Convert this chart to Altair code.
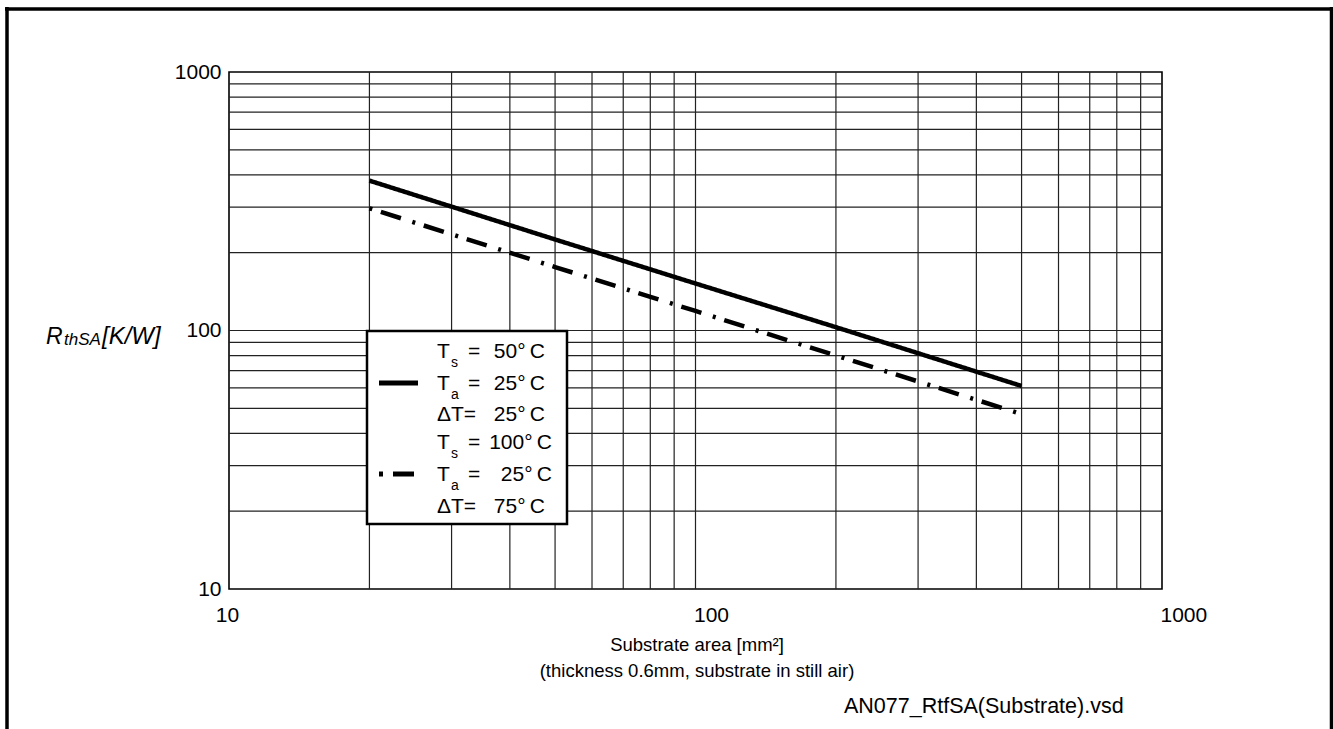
import altair as alt
import pandas as pd

# ---------------- data ----------------
area_mm2 = [20, 50, 100, 200, 500]
r_ts50 = [380, 225, 152, 103, 61]        # Ts = 50°C, Ta = 25°C, dT = 25°C
r_ts100 = [297, 176, 119, 80, 47.5]      # Ts = 100°C, Ta = 25°C, dT = 75°C
case_names = ["dT25", "dT75"]

x_ticks = [10, 100, 1000]
y_ticks = [10, 100, 1000]
x_grid = [20, 30, 40, 50, 60, 70, 80, 90, 100, 200, 300, 400, 500, 600, 700, 800, 900]
y_grid = [20, 30, 40, 50, 60, 70, 80, 90, 100, 200, 300, 400, 500, 600, 700, 800, 900]

legend_main = ["T", "T", "\u0394T=", "T", "T", "\u0394T="]
legend_sub = ["s", "a", "", "s", "a", ""]
legend_eq = ["=", "=", "", "=", "=", ""]
legend_val = ["50\u00b0\u2009C", "25\u00b0\u2009C", "25\u00b0\u2009C",
              "100\u00b0\u2009C", "25\u00b0\u2009C", "75\u00b0\u2009C"]

x_title = ["Substrate area [mm\u00b2]", "(thickness 0.6mm, substrate in still air)"]
file_note = "AN077_RtfSA(Substrate).vsd"

# ---------------- chart ----------------
FONT = "Liberation Sans"
W, H = 933, 517
xs = alt.Scale(type="log", domain=[10, 1000])
ys = alt.Scale(type="log", domain=[10, 1000])

df = pd.DataFrame({
    "area": area_mm2 + area_mm2,
    "r": r_ts50 + r_ts100,
    "case": [case_names[0]] * len(area_mm2) + [case_names[1]] * len(area_mm2),
})
one = pd.DataFrame({"k": [0]})

x_axis = alt.Axis(values=x_ticks, title=None, grid=False, ticks=False, domain=False,
                  labelFontSize=21, labelFont=FONT, labelColor="black", labelPadding=15,
                  labelBaseline="top", labelAlign={"expr": "datum.value == 10 ? 'center' : 'left'"},
                  labelOffset=-2, labelFlush=False, labelOverlap=False, format="d")
y_axis = alt.Axis(values=y_ticks, title=None, grid=False, ticks=False, domain=False,
                  labelFontSize=21, labelFont=FONT, labelColor="black", labelPadding=8,
                  labelBaseline="middle", labelAlign="right", labelFlush=False,
                  labelOverlap=False, format="d")

grid_h = alt.Chart(pd.DataFrame({"g": y_grid})).mark_rule(color="#222", strokeWidth=1.2).encode(
    y=alt.Y("g:Q", scale=ys, axis=y_axis))
grid_v = alt.Chart(pd.DataFrame({"g": x_grid})).mark_rule(color="#222", strokeWidth=1.2).encode(
    x=alt.X("g:Q", scale=xs, axis=x_axis))

lines = alt.Chart(df).mark_line(color="black", strokeWidth=4.5, strokeCap="butt").encode(
    x=alt.X("area:Q", scale=xs, axis=x_axis),
    y=alt.Y("r:Q", scale=ys, axis=y_axis),
    strokeDash=alt.StrokeDash("case:N", scale=alt.Scale(domain=case_names, range=[[1, 0], [3, 9, 21, 12]]),
                              legend=None),
)


def rule(x1, x2, y1, y2, w, color="black"):
    return alt.Chart(one).mark_rule(color=color, strokeWidth=w, strokeCap="butt").encode(
        x=alt.value(x1), x2=alt.value(x2), y=alt.value(y1), y2=alt.value(y2))


def txt(s, x, y, size, align="left", baseline="middle", italic=False):
    return alt.Chart(one).mark_text(text=s, align=align, baseline=baseline, fontSize=size, font=FONT,
                                    fontStyle="italic" if italic else "normal", color="black").encode(
        x=alt.value(x), y=alt.value(y))


layers = [grid_h, grid_v, lines]

# page frame
layers += [rule(-224, 1104, -63, -63, 3.5), rule(-222, -222, -65, 660, 3.5), rule(1102.5, 1102.5, -65, 660, 3.5)]

# legend box
layers.append(alt.Chart(one).mark_rect(fill="white", stroke="black", strokeWidth=2.5).encode(
    x=alt.value(138), x2=alt.value(338), y=alt.value(259), y2=alt.value(452)))
layers.append(rule(150, 189, 311, 311, 5))
layers.append(rule(150, 154, 402, 402, 5))
layers.append(rule(164, 185, 402, 402, 5))

row_y = [280, 312, 342.5, 371, 403, 434.5]
val_right = [316, 316, 316, 323, 323, 316]
for i in range(6):
    layers.append(txt(legend_main[i], 208, row_y[i], 21))
    if legend_sub[i]:
        layers.append(txt(legend_sub[i], 222, row_y[i] + 11, 14))
    if legend_eq[i]:
        layers.append(txt(legend_eq[i], 239, row_y[i], 21))
    layers.append(txt(legend_val[i], val_right[i], row_y[i], 21, align="right"))

# y title: R_thSA[K/W]
layers.append(txt("R", -183, 272, 23, baseline="alphabetic", italic=True))
layers.append(txt("thSA", -165, 273, 17, baseline="alphabetic", italic=True))
layers.append(txt("[K/W]", -127, 272, 24, baseline="alphabetic", italic=True))

# x titles and file note
layers.append(txt(x_title[0], 468, 573, 18.5, align="center"))
layers.append(txt(x_title[1], 468, 599, 18.5, align="center"))
layers.append(txt(file_note, 615, 635, 21.5))

chart = alt.layer(*layers).properties(
    width=W, height=H,
    padding={"left": 229, "top": 72, "right": 171, "bottom": 140},
    autosize=alt.AutoSizeParams(type="none"),
    background="white",
).configure_view(stroke="black", strokeWidth=1.6)

chart.save("out.html", embed_options={"renderer": "svg", "actions": False})
